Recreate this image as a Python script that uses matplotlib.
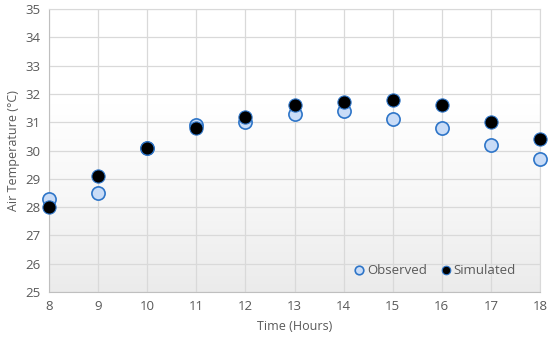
import matplotlib
matplotlib.use("Agg")
import matplotlib.pyplot as plt
import numpy as np
from matplotlib.colors import LinearSegmentedColormap

plt.rcParams['font.family'] = ['Open Sans', 'DejaVu Sans']

hours = [8, 9, 10, 11, 12, 13, 14, 15, 16, 17, 18]
observed = [28.3, 28.5, 30.1, 30.9, 31.0, 31.3, 31.4, 31.1, 30.8, 30.2, 29.7]
simulated = [28.0, 29.1, 30.1, 30.8, 31.2, 31.6, 31.7, 31.8, 31.6, 31.0, 30.4]
yticks = [25, 26, 27, 28, 29, 30, 31, 32, 33, 34, 35]

fig = plt.figure(figsize=(5.5, 3.42), dpi=100)
ax = fig.add_axes([49/550, 1-292/342, (540-49)/550, (292-9)/342])

ax.set_xlim(8, 18)
ax.set_ylim(25, 35)
grad = np.linspace(0, 1, 256).reshape(-1, 1)
cmap = LinearSegmentedColormap.from_list('g', ['#ebebeb', '#f7f7f7', '#ffffff', '#ffffff'])
ax.imshow(grad, extent=[8, 18, 25, 35], origin='lower', cmap=cmap, aspect='auto', zorder=0)

ax.set_xticks(hours)
ax.set_yticks(yticks)
ax.grid(True, color='#d9d9d9', linewidth=0.9, zorder=1)
ax.set_axisbelow(True)
for s in ['top', 'right']:
    ax.spines[s].set_color('#d9d9d9')
for s in ['left', 'bottom']:
    ax.spines[s].set_color('#bfbfbf')
ax.tick_params(length=0, labelsize=9.5, colors='#595959', pad=6)

ax.plot(hours, observed, 'o', ms=9.5, mfc='#c9dcf7', mec='#2e75c8', mew=1.2, clip_on=False, zorder=3, label='Observed')
ax.plot(hours, simulated, 'o', ms=9.5, mfc='black', mec='#2e75c8', mew=0.8, clip_on=False, zorder=4, label='Simulated')

ax.set_xlabel('Time (Hours)', fontsize=9, color='#595959', labelpad=5)
ax.set_ylabel('Air Temperature (°C)', fontsize=9, color='#595959', labelpad=4)

leg = ax.legend(loc='lower right', bbox_to_anchor=(0.975, 0.01), ncol=2, frameon=False, fontsize=9.5,
                markerscale=0.65, handletextpad=0.1, columnspacing=0.9, handlelength=1.0)
for t in leg.get_texts():
    t.set_color('#595959')

fig.savefig('out.png', dpi=100)
